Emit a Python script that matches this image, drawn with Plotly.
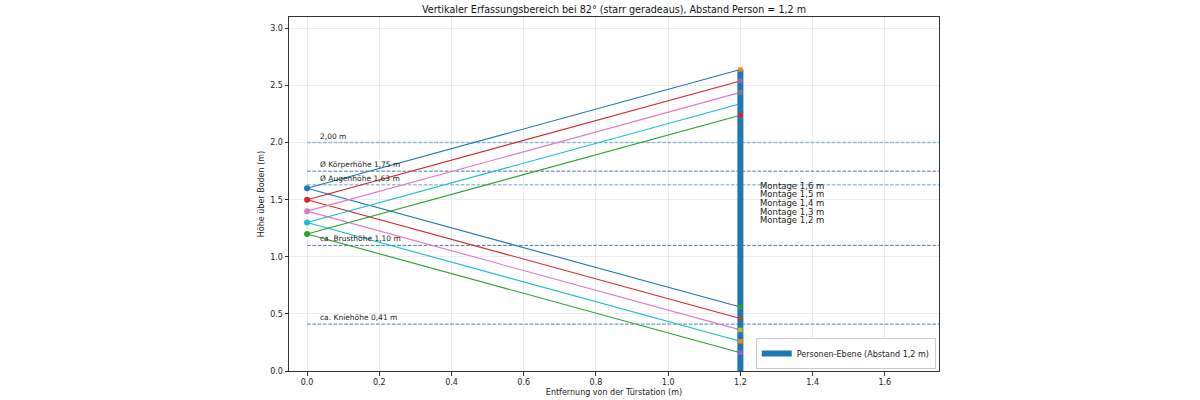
import plotly.graph_objects as go

# ---- data ----
mount_heights = [1.6, 1.5, 1.4, 1.3, 1.2]
top_at_person = [2.64, 2.54, 2.44, 2.34, 2.24]
bottom_at_person = [0.56, 0.46, 0.36, 0.26, 0.16]
person_distance = 1.2
line_colors = ["#1f77b4", "#d62728", "#e377c2", "#17becf", "#2ca02c"]
top_marker_colors = ["#ff7f0e", "#9467bd", "#7f7f7f", "#1f77b4", "#d62728"]
bottom_marker_colors = ["#2ca02c", "#8c564b", "#bcbd22", "#ff7f0e", "#9467bd"]

ref_heights = [2.00, 1.75, 1.63, 1.10, 0.41]
ref_labels = ["2,00 m", "Ø Körperhöhe 1,75 m", "Ø Augenhöhe 1,63 m",
              "ca. Brusthöhe 1,10 m", "ca. Kniehöhe 0,41 m"]
ref_colors = ["rgba(31,119,180,0.45)", "#4a78a8", "rgba(31,119,180,0.45)",
              "#4a78a8", "rgba(31,119,180,0.7)"]
ref_widths = [1.5, 1.0, 1.5, 1.0, 1.2]

x_range = [-0.05, 1.75]
y_range = [0, 3.1]

FONT = "DejaVu Sans, Liberation Sans, sans-serif"

fig = go.Figure()

# reference lines
for h, c, w in zip(ref_heights, ref_colors, ref_widths):
    fig.add_trace(go.Scatter(x=[0, x_range[1]], y=[h, h], mode="lines",
                             line=dict(color=c, width=w, dash="3.7px,1.6px"),
                             showlegend=False, hoverinfo="skip"))

# field of view lines
for h, t, b, c in zip(mount_heights, top_at_person, bottom_at_person, line_colors):
    fig.add_trace(go.Scatter(x=[0, person_distance], y=[h, t], mode="lines",
                             line=dict(color=c, width=1.1), showlegend=False))
    fig.add_trace(go.Scatter(x=[0, person_distance], y=[h, b], mode="lines",
                             line=dict(color=c, width=1.1), showlegend=False))

# person plane
fig.add_trace(go.Scatter(x=[person_distance, person_distance], y=[0, max(top_at_person)],
                         mode="lines", line=dict(color="#1f77b4", width=6),
                         name="Personen-Ebene (Abstand 1,2 m)", showlegend=True))

# mount points
fig.add_trace(go.Scatter(x=[0] * len(mount_heights), y=mount_heights, mode="markers",
                         marker=dict(color=line_colors, size=6, symbol="circle"),
                         showlegend=False))

# end markers
fig.add_trace(go.Scatter(x=[person_distance] * len(top_at_person), y=top_at_person,
                         mode="markers",
                         marker=dict(color=top_marker_colors, size=4.5, symbol="square"),
                         showlegend=False))
fig.add_trace(go.Scatter(x=[person_distance] * len(bottom_at_person), y=bottom_at_person,
                         mode="markers",
                         marker=dict(color=bottom_marker_colors, size=4.5, symbol="square"),
                         showlegend=False))

annotations = []
for h, lab in zip(ref_heights, ref_labels):
    annotations.append(dict(x=0.03, y=h, xref="x", yref="y", text=lab, showarrow=False,
                            xanchor="left", yanchor="bottom", yshift=0,
                            font=dict(family=FONT, size=7.5, color="#222")))
label_top = 1.623
label_step = 0.076
for i, h in enumerate(mount_heights):
    annotations.append(dict(x=1.25, y=label_top - i * label_step, xref="x", yref="y",
                            text="Montage " + f"{h:.1f}".replace(".", ",") + " m",
                            showarrow=False, xanchor="left", yanchor="middle",
                            font=dict(family=FONT, size=8.5, color="#222")))

axis_common = dict(showline=True, linecolor="#333", linewidth=1, mirror=True,
                   ticks="outside", ticklen=3.5, tickcolor="#333", tickwidth=1,
                   showgrid=True, gridcolor="#ebebeb", gridwidth=1, zeroline=False,
                   automargin=False,
                   tickfont=dict(family=FONT, size=8, color="#222"))

fig.update_layout(
    width=1200, height=400,
    margin=dict(l=289, r=261, t=17, b=29),
    paper_bgcolor="white", plot_bgcolor="white",
    title=dict(text="Vertikaler Erfassungsbereich bei 82° (starr geradeaus), Abstand Person = 1,2 m",
               x=(289 + 939) / 2 / 1200, xanchor="center", y=1 - 10 / 400, yanchor="middle",
               pad=dict(t=0, b=0),
               font=dict(family=FONT, size=9.6, color="#111")),
    xaxis=dict(range=x_range, tickvals=[0, 0.2, 0.4, 0.6, 0.8, 1.0, 1.2, 1.4, 1.6],
               ticktext=["0.0", "0.2", "0.4", "0.6", "0.8", "1.0", "1.2", "1.4", "1.6"],
               title=dict(text="Entfernung von der Türstation (m)", standoff=3,
                          font=dict(family=FONT, size=8, color="#222")),
               **axis_common),
    yaxis=dict(range=y_range, tickvals=[0, 0.5, 1.0, 1.5, 2.0, 2.5, 3.0],
               ticktext=["0.0", "0.5", "1.0", "1.5", "2.0", "2.5", "3.0"],
               title=dict(text="Höhe über Boden (m)", standoff=4,
                          font=dict(family=FONT, size=8, color="#222")),
               **axis_common),
    legend=dict(x=0.995, y=0.006, xanchor="right", yanchor="bottom",
                bgcolor="white", bordercolor="#cccccc", borderwidth=1,
                font=dict(family=FONT, size=8, color="#222"),
                itemwidth=30, tracegroupgap=0),
    annotations=annotations,
)

# remove the default page margin so the figure sits at the window's top-left corner
fig.write_html("out.html", config={"displayModeBar": False},
               post_script="document.body.style.margin='0px';")
